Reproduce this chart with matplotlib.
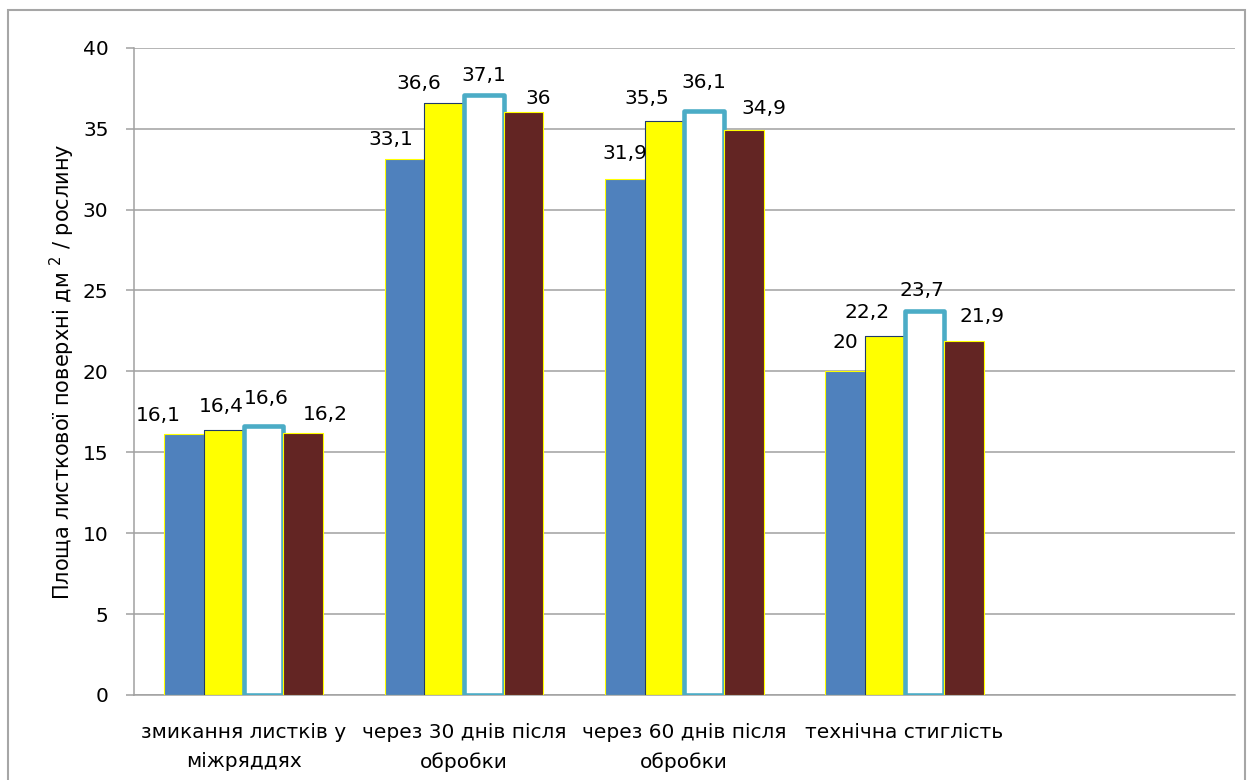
import numpy as np
import matplotlib
matplotlib.use("Agg")
import matplotlib.pyplot as plt
from matplotlib.patches import Rectangle

plt.rcParams['font.family'] = ['DejaVu Sans']

# categories (fifth slot on the axis is left empty)
stages = ["змикання листків у\nміжряддях",
          "через 30 днів після\nобробки",
          "через 60 днів після\nобробки",
          "технічна стиглість"]

series_1 = [16.1, 33.1, 31.9, 20.0]
series_2 = [16.4, 36.6, 35.5, 22.2]
series_3 = [16.6, 37.1, 36.1, 23.7]
series_4 = [16.2, 36.0, 34.9, 21.9]

y_label = "Площа листкової поверхні дм $^{2}$ / рослину"

# bar looks: face, edge, edge width
styles = [("#4F81BD", "#FFFF00", 0.8),
          ("#FFFF00", "#1F3A6B", 0.8),
          ("#FFFFFF", "#4BACC6", 3.3),
          ("#632523", "#FFFF00", 0.8)]

# hand placed value labels, pixel offsets from top centre of each bar
label_dx = [[-26, -3, 3, 22],
            [-14, -25, 0, 15],
            [0, -18, 0, 20],
            [0, -18, -2, 18]]
label_dy = [[19, 23, 28, 18],
            [20, 19, 19, 14],
            [25, 22, 28, 22],
            [29, 23, 21, 24]]

FS = 14.5
fig = plt.figure(figsize=(12.5, 7.8), dpi=100)
ax = fig.add_axes([133.5 / 1250, 1 - 695 / 780, (1235 - 133.5) / 1250, (695 - 47.7) / 780])

data = [series_1, series_2, series_3, series_4]
x = np.arange(len(stages))
w = 0.18
for i, vals in enumerate(data):
    face, edge, lw = styles[i]
    pos = x + (i - 1.5) * w
    bars = ax.bar(pos, vals, width=w, color=face, edgecolor=edge, linewidth=lw,
                  zorder=3, joinstyle='round')
    for j, b in enumerate(bars):
        txt = ("%g" % vals[j]).replace(".", ",")
        ax.annotate(txt, (b.get_x() + b.get_width() / 2, vals[j]),
                    xytext=(label_dx[j][i], label_dy[j][i]), textcoords='offset pixels',
                    ha='center', va='center', fontsize=FS, color='#000000', zorder=4)

grid_c = "#A0A0A0"
ax.set_xlim(-0.5, 4.5)
ax.set_ylim(0, 40)
ax.set_yticks(np.arange(0, 41, 5))
ax.yaxis.grid(True, color=grid_c, linewidth=1.1, zorder=0)
ax.set_axisbelow(True)
ax.set_xticks(x)
ax.set_xticklabels(stages, fontsize=FS, linespacing=1.7)
ax.tick_params(axis='x', length=0, pad=20)
ax.tick_params(axis='y', length=6, color=grid_c, width=1.1, labelsize=FS, pad=12)
for s in ['top', 'right']:
    ax.spines[s].set_visible(False)
for s in ['left', 'bottom']:
    ax.spines[s].set_color(grid_c)
    ax.spines[s].set_linewidth(1.1)

fig.text(62 / 1250, 1 - 372 / 780, y_label, rotation=90, ha='center', va='center', fontsize=15)

fig.patches.append(Rectangle((8 / 1250, -0.05), (1245 - 8) / 1250, 1.05 - 10.5 / 780,
                             transform=fig.transFigure, fill=False,
                             edgecolor="#A6A6A6", linewidth=1.5))

fig.savefig("out.png", dpi=100)
